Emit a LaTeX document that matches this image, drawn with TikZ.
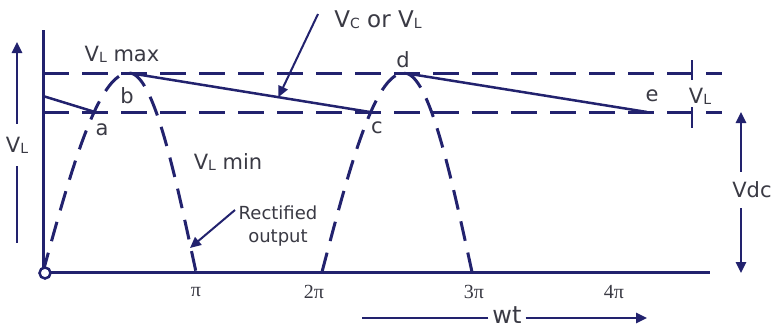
\documentclass[tikz,border=0pt]{standalone}
\usepackage{fontspec}
\setmainfont{DejaVu Sans}
\newfontfamily\tickfont{Liberation Serif}
\usetikzlibrary{arrows.meta,calc}
\definecolor{navy}{HTML}{22226E}
\definecolor{txt}{HTML}{3A3A44}
\newcommand{\smallsub}[1]{\raisebox{-1pt}{\fontsize{14}{14}\selectfont #1}}
\begin{document}
\begin{tikzpicture}[x=1pt,y=-1pt,
  axisline/.style={draw=navy, line width=3pt},
  guide/.style={draw=navy, line width=3pt, dash pattern=on 26pt off 13pt},
  wave/.style={draw=navy, line width=3pt, dash pattern=on 20pt off 12pt},
  slope/.style={draw=navy, line width=2.5pt},
  arr/.style={draw=navy, line width=2.5pt, -{Triangle[length=11pt,width=10pt]}},
  lbl/.style={text=txt, inner sep=1pt, font=\fontsize{21}{24}\selectfont},
  ticklbl/.style={text=txt, inner sep=1pt, font=\tickfont\fontsize{20}{22}\selectfont}]
\useasboundingbox (0,0) rectangle (777,330);
\fill[white] (0,0) rectangle (777,330);
% key points
\coordinate (O) at (43,272);
\coordinate (ytop) at (43,30);
\coordinate (xend) at (710,272);
\coordinate (tl) at (43,73);
\coordinate (tr) at (722,73);
\coordinate (bl) at (43,112);
\coordinate (br) at (722,112);
\coordinate (L0) at (43,96);
\coordinate (a) at (95,112);
\coordinate (b) at (129,73);
\coordinate (c) at (370,112);
\coordinate (d) at (404,73);
\coordinate (e) at (647,112);
% guide lines
\draw[guide] (tl) -- (tr);
\draw[guide] (bl) -- (br);
\draw[axisline, line width=2.5pt] (692,60) -- (692,80);
\draw[axisline, line width=2.5pt] (692,107) -- (692,128);
% rectified waves
\draw[wave] plot[domain=0:90,samples=40] ({43+86*\x/90},{272-199*sin(\x)})
  -- plot[domain=90:180,samples=40] ({129+67*(\x-90)/90},{272-199*sin(\x)});
\draw[wave] plot[domain=0:90,samples=40] ({322+82*\x/90},{272-199*sin(\x)})
  -- plot[domain=90:180,samples=40] ({404+68*(\x-90)/90},{272-199*sin(\x)});
% capacitor discharge lines
\draw[slope] (L0) -- (a);
\draw[slope] (b) -- (c);
\draw[slope] (d) -- (e);
% axes
\draw[axisline] (ytop) -- (O) -- (xend);
\node[circle, draw=navy, line width=2.5pt, fill=white, minimum size=11pt, inner sep=0] (orig) at (45,273) {};
% point labels
\node[lbl] (la) at (102,130) {a};
\node[lbl] (lb) at (127,96) {b};
\node[lbl] (lc) at (377,128) {c};
\node[lbl] (ld) at (403,60) {d};
\node[lbl] (le) at (652,96) {e};
\node[lbl] (vmax) at (122,54) {V\smallsub{L} max};
\node[lbl] (vmin) at (228,162) {V\smallsub{L} min};
\node[lbl] (vlr) at (700,96) {V\smallsub{L}};
% Vc or VL pointer
\node[lbl, font=\fontsize{23}{26}\selectfont] (vc) at (378,20) {V\smallsub{C} or V\smallsub{L}};
\coordinate (vcp) at (318,14);
\coordinate (vct) at ($(b)!0.62!(c)$);
\draw[arr, line width=2pt] (vcp) -- (vct);
% rectified output
\node[lbl, font=\fontsize{18}{23}\selectfont, align=center] (rect) at (278,226) {Rectified\\output};
\coordinate (rp) at (235,210);
\coordinate (rt) at (190,248);
\draw[arr, line width=2pt] (rp) -- (rt);
% left VL arrow
\node[lbl, minimum height=42pt, inner sep=0] (vl) at (17,145) {V\smallsub{L}};
\coordinate (vlTip) at (17,42);
\coordinate (vlEnd) at (17,243);
\draw[arr] (vl.north) -- (vlTip);
\draw[slope] (vl.south) -- (vlEnd);
% Vdc arrow
\node[lbl, minimum height=36pt, inner sep=0] (vdc) at (752,190) {Vdc};
\coordinate (vdcTop) at (741,112);
\coordinate (vdcBot) at (741,273);
\draw[arr] (vdc.north -| vdcTop) -- (vdcTop);
\draw[arr] (vdc.south -| vdcTop) -- (vdcBot);
% tick labels
\node[ticklbl] (p1) at (196,292) {π};
\node[ticklbl] (p2) at (314,292) {2π};
\node[ticklbl] (p3) at (474,292) {3π};
\node[ticklbl] (p4) at (614,292) {4π};
% wt arrow
\node[lbl, font=\fontsize{24}{26}\selectfont, inner sep=4pt] (wt) at (507,315) {wt};
\coordinate (wtL) at (362,318);
\coordinate (wtR) at (647,318);
\draw[slope] (wt.west |- wtL) -- (wtL);
\draw[arr] (wt.east |- wtR) -- (wtR);
\end{tikzpicture}
\end{document}
